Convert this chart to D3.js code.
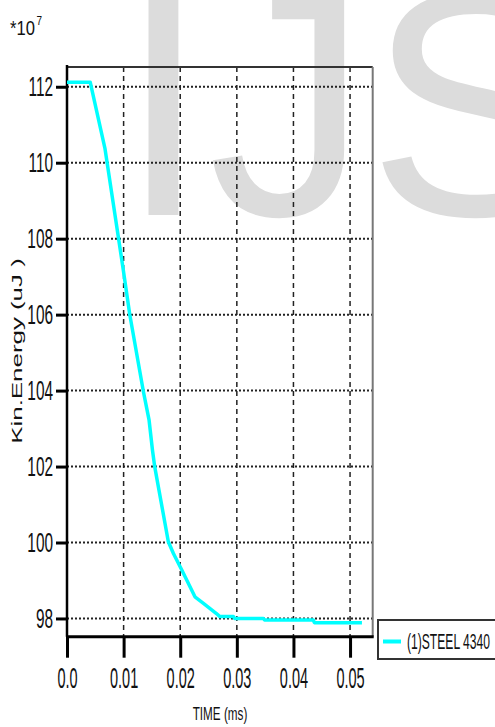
<!DOCTYPE html>
<html>
<head>
<meta charset="utf-8">
<script src="https://cdn.jsdelivr.net/npm/d3@7"></script>
<style>
  html, body { margin: 0; padding: 0; background: #fff; }
  svg { display: block; font-family: "Liberation Sans", Arial, sans-serif; }
</style>
</head>
<body>
<svg id="chart" width="495" height="727"></svg>
<script>
// ---- data ----
const timeMs = [0, 0.0041, 0.0067, 0.00995, 0.0111, 0.0135, 0.0145, 0.0151, 0.0155, 0.0179, 0.0188, 0.0203, 0.0226, 0.0241, 0.0264, 0.0270, 0.0294, 0.0296, 0.0347, 0.0349, 0.0435, 0.0437, 0.0521];
const kinEnergy = [112.12, 112.12, 110.38, 107.17, 105.99, 103.97, 103.22, 102.43, 101.99, 100.02, 99.71, 99.27, 98.57, 98.40, 98.13, 98.05, 98.05, 98.0, 98.0, 97.96, 97.96, 97.89, 97.89];
const xTicks = [0, 0.01, 0.02, 0.03, 0.04, 0.05];
const xTickLabels = ["0.0", "0.01", "0.02", "0.03", "0.04", "0.05"];
const yTicks = [98, 100, 102, 104, 106, 108, 110, 112];
const seriesName = "(1)STEEL 4340";
const xTitle = "TIME (ms)";
const yTitle = "Kin.Energy (uJ )";

const svg = d3.select("#chart");

// watermark
svg.append("text")
  .attr("x", 119).attr("y", 215)
  .attr("font-size", 320)
  .attr("fill", "#dcdcdc")
  .text("IJS");

const pL = 67, pR = 372.7, pT = 67, pB = 636.7;
const x = d3.scaleLinear().domain([0, 0.054]).range([pL, pR]);
const y = d3.scaleLinear().domain([97.52, 112.52]).range([pB, pT]);

// grid
svg.append("g").selectAll("line").data(yTicks).join("line")
  .attr("x1", pL).attr("x2", pR)
  .attr("y1", d => y(d)).attr("y2", d => y(d))
  .attr("stroke", "#222").attr("stroke-width", 2).attr("stroke-dasharray", "2,2");
svg.append("g").selectAll("line").data(xTicks.slice(1)).join("line")
  .attr("x1", d => x(d)).attr("x2", d => x(d))
  .attr("y1", pT).attr("y2", pB)
  .attr("stroke", "#222").attr("stroke-width", 1.5).attr("stroke-dasharray", "5,4");

// frame
svg.append("line").attr("x1", pL).attr("x2", pR).attr("y1", pT).attr("y2", pT)
  .attr("stroke", "#333").attr("stroke-width", 2);
svg.append("line").attr("x1", pR).attr("x2", pR).attr("y1", pT).attr("y2", pB)
  .attr("stroke", "#777").attr("stroke-width", 2);

// axes
const yAxis = d3.axisLeft(y).tickValues(yTicks).tickSize(11).tickSizeOuter(0).tickPadding(3).tickFormat(d3.format("d"));
const gy = svg.append("g").attr("transform", `translate(${pL},0)`).call(yAxis);
gy.select(".domain").remove();
gy.selectAll(".tick line").attr("stroke", "#000").attr("stroke-width", 3);
const syY = 0.55;
gy.selectAll(".tick text")
  .attr("font-size", 28).attr("fill", "#111").attr("font-family", "Liberation Sans, Arial, sans-serif")
  .attr("transform", `scale(${syY},1)`)
  .attr("x", -14 / syY);

const xAxis = d3.axisBottom(x).tickValues(xTicks).tickSize(21).tickSizeOuter(0).tickPadding(10)
  .tickFormat((d, i) => xTickLabels[i]);
const gx = svg.append("g").attr("transform", `translate(0,${pB})`).call(xAxis);
gx.select(".domain").remove();
gx.selectAll(".tick line").attr("stroke", "#000").attr("stroke-width", 3);
gx.selectAll(".tick text")
  .attr("font-size", 29).attr("fill", "#111").attr("font-family", "Liberation Sans, Arial, sans-serif")
  .attr("transform", "scale(0.5,1)");

svg.append("line").attr("x1", pL).attr("x2", pL).attr("y1", pT - 2).attr("y2", pB)
  .attr("stroke", "#000").attr("stroke-width", 2.5);
svg.append("line").attr("x1", pL - 1).attr("x2", pR + 1).attr("y1", pB).attr("y2", pB)
  .attr("stroke", "#000").attr("stroke-width", 3);

// series
const pts = timeMs.map((t, i) => [t, kinEnergy[i]]);
svg.append("path").datum(pts)
  .attr("fill", "none").attr("stroke", "#00ffff").attr("stroke-width", 3.5)
  .attr("stroke-linejoin", "round")
  .attr("d", d3.line().x(d => x(d[0])).y(d => y(d[1])));

// multiplier
const mult = svg.append("g").attr("transform", "translate(10,35) scale(0.83,1)");
mult.append("text").attr("font-size", 20).attr("fill", "#111").text("*10");
mult.append("text").attr("x", 32).attr("y", -10).attr("font-size", 12).attr("fill", "#111").text("7");

// axis titles
svg.append("g").attr("transform", "translate(220,720) scale(0.65,1)")
  .append("text").attr("text-anchor", "middle").attr("font-size", 18).attr("fill", "#111").text(xTitle);
svg.append("g").attr("transform", "translate(22,351) rotate(-90) scale(1.85,1)")
  .append("text").attr("text-anchor", "middle").attr("font-size", 14).attr("fill", "#111").text(yTitle);

// legend
svg.append("rect").attr("x", 378).attr("y", 620).attr("width", 140).attr("height", 39)
  .attr("fill", "#fff").attr("stroke", "#333").attr("stroke-width", 2);
svg.append("line").attr("x1", 383).attr("x2", 401).attr("y1", 641.5).attr("y2", 641.5)
  .attr("stroke", "#00ffff").attr("stroke-width", 4);
svg.append("g").attr("transform", "translate(407,649) scale(0.55,1)")
  .append("text").attr("font-size", 22).attr("fill", "#111").text(seriesName);
</script>
</body>
</html>
